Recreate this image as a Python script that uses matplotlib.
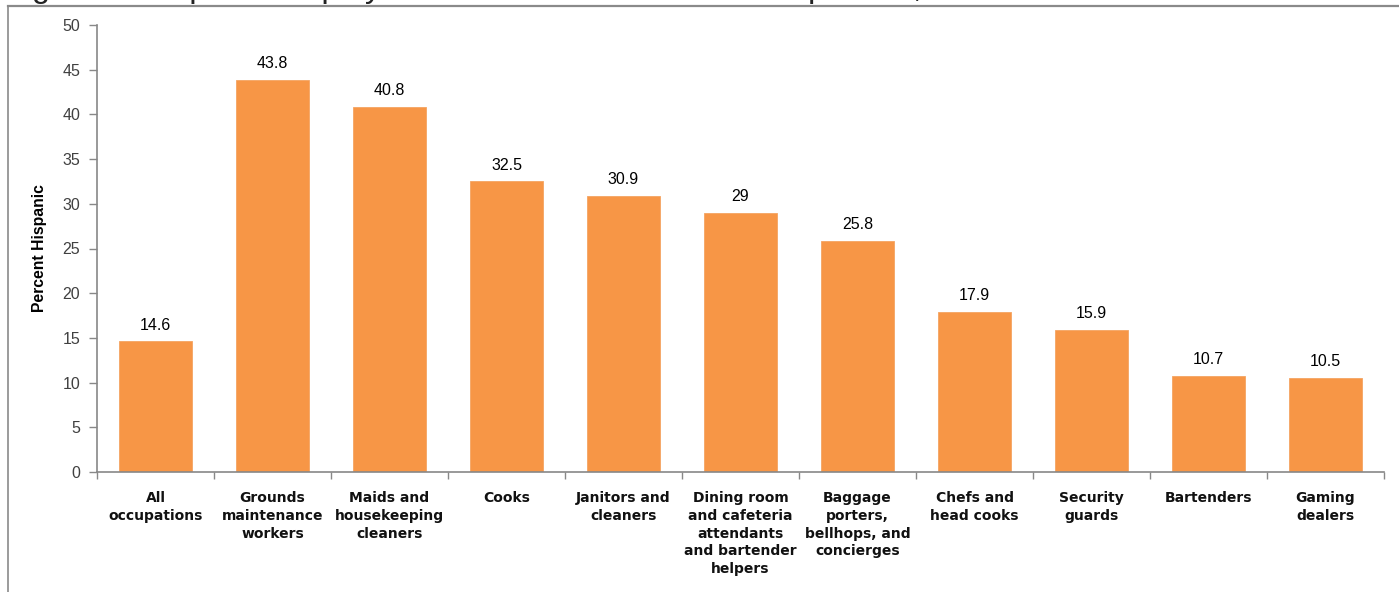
import numpy as np
import matplotlib
matplotlib.use("Agg")
import matplotlib.pyplot as plt
from matplotlib.lines import Line2D

# data
occupations = ["All\noccupations", "Grounds\nmaintenance\nworkers", "Maids and\nhousekeeping\ncleaners",
               "Cooks", "Janitors and\ncleaners",
               "Dining room\nand cafeteria\nattendants\nand bartender\nhelpers",
               "Baggage\nporters,\nbellhops, and\nconcierges", "Chefs and\nhead cooks",
               "Security\nguards", "Bartenders", "Gaming\ndealers"]
pct_hispanic = [14.6, 43.8, 40.8, 32.5, 30.9, 29, 25.8, 17.9, 15.9, 10.7, 10.5]
y_ticks = list(range(0, 55, 5))

W, H = 1399, 592
fig = plt.figure(figsize=(W / 100, H / 100), dpi=100)
ax = fig.add_axes([97 / W, 1 - 472 / H, (1384 - 97) / W, (472 - 25) / H])

x = np.arange(len(occupations))
ax.bar(x, pct_hispanic, width=0.62, color="#F79646", edgecolor="#F5A462", linewidth=0.6)

for xi, v in zip(x, pct_hispanic):
    ax.text(xi, v + 1.0, f"{v:g}", ha="center", va="bottom", fontsize=11.5,
            family="Liberation Sans", color="#000000")

ax.set_xlim(-0.5, len(occupations) - 0.5)
ax.set_ylim(0, 50)
ax.set_yticks(y_ticks)
ax.set_yticklabels([str(t) for t in y_ticks], family="Liberation Sans", fontsize=11.5, color="#404040")
ax.tick_params(axis="y", direction="out", length=6, width=1, color="#888888", pad=6)

ax.set_xticks(x)
ax.set_xticklabels(occupations, fontsize=10, fontweight="bold", family="DejaVu Sans",
                   color="#111111", linespacing=1.33)
ax.tick_params(axis="x", which="major", length=0, pad=14)
ax.set_xticks(np.arange(-0.5, len(occupations), 1), minor=True)
ax.tick_params(axis="x", which="minor", direction="out", length=5, width=1, color="#888888")

for s in ["top", "right"]:
    ax.spines[s].set_visible(False)
for s in ["left", "bottom"]:
    ax.spines[s].set_color("#888888")
    ax.spines[s].set_linewidth(1.2)

ax.set_ylabel("Percent Hispanic", fontsize=11.3, fontweight="bold", family="Liberation Sans")
ax.yaxis.set_label_coords(-50 / (1384 - 97), 0.5)

# outer frame of the chart box
fig.add_artist(Line2D([8 / W, 8 / W], [0, 1 - 6 / H], transform=fig.transFigure, color="#8a8a8a", lw=1.2))
fig.add_artist(Line2D([8 / W, 1], [1 - 6 / H, 1 - 6 / H], transform=fig.transFigure, color="#8a8a8a", lw=1.6))

# title, cut off above the box as in the source image
fig.text(5 / W, 1 + 2.5 / H, "Figure 2. Hispanic employment in selected service occupations, 2010",
         ha="left", va="baseline", fontsize=23.4, family="Liberation Sans", color="#222222")

fig.savefig("out.png", dpi=100)
